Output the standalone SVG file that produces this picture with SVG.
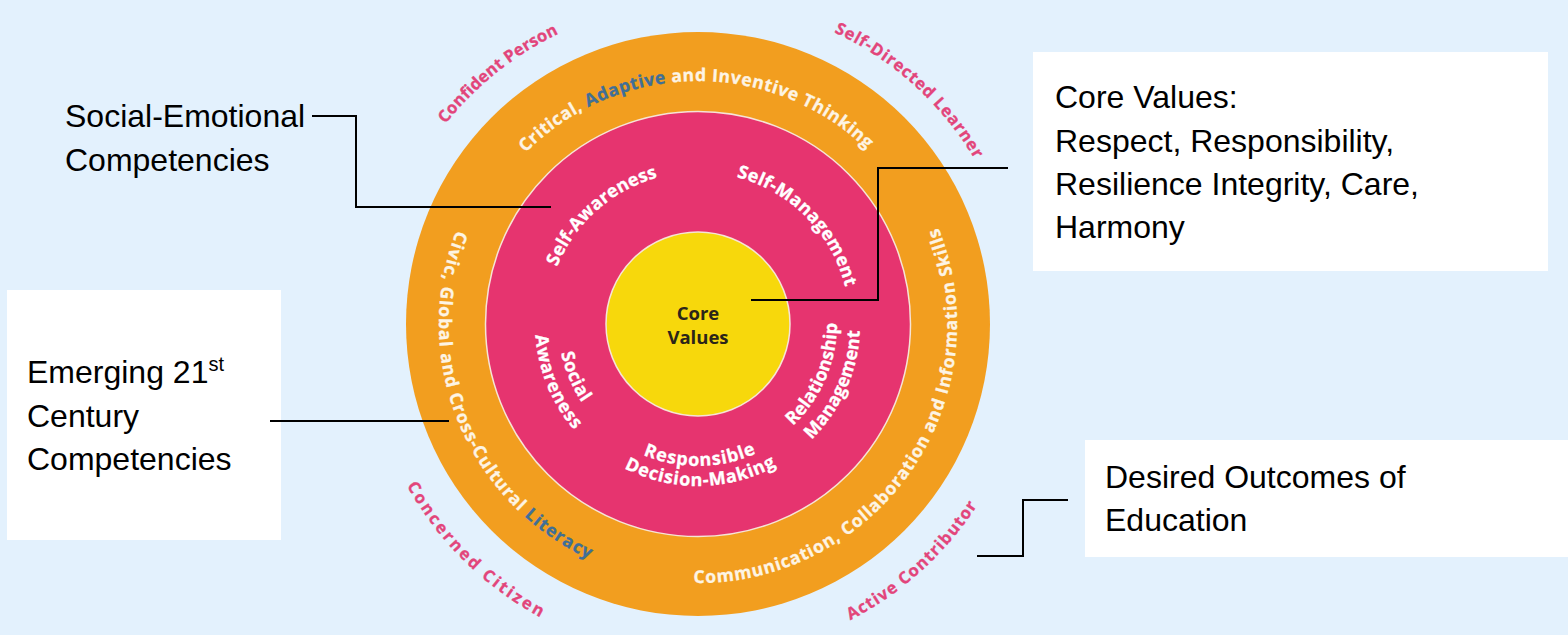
<svg xmlns="http://www.w3.org/2000/svg" width="1568" height="635" viewBox="0 0 1568 635">
<style>
.ring{font-family:"Open Sans","Liberation Sans",sans-serif;font-weight:700;}
.band{font-size:17.5px;fill:#fdf4e4;stroke:#fdf4e4;stroke-width:0.3px;}
.inner{font-size:18px;fill:#ffffff;stroke:#ffffff;stroke-width:0.3px;}
.outer{font-size:16.5px;fill:#e2457b;stroke:#e2457b;stroke-width:0.3px;}
.blue{fill:#3f6f98;stroke:#3f6f98;}
.call{font-family:"Liberation Sans",Arial,sans-serif;font-size:32px;fill:#000;}
.conn{fill:none;stroke:#000;stroke-width:2;}
.box{fill:#ffffff;}
</style>
<defs>
<path id="pCritical" d="M525.6,152.8 A243,243 0 0 1 894.6,181.2"/>
<path id="pSelfDir" d="M834.1,32.2 A322,322 0 0 1 1000.6,213.9"/>
<path id="pConfident" d="M445.6,124 A322,322 0 0 1 614.7,13"/>
<path id="pConcerned" d="M406.8,485.4 A333,333 0 0 0 595.1,640.7"/>
<path id="pActive" d="M850.2,620.2 A333,333 0 0 0 1004.5,454.1"/>
<path id="pCivic" d="M456.5,230.3 A259,259 0 0 0 631,574.2"/>
<path id="pComm" d="M693.5,583 A259,259 0 0 0 922.3,194.5"/>
<path id="pSelfAw" d="M557.2,266.8 A152,152 0 0 1 684.8,172.6"/>
<path id="pSelfMan" d="M736.6,177 A152,152 0 0 1 849.6,313.4"/>
<path id="pSocial" d="M561.1,353.1 A140,140 0 0 0 597.3,421.3"/>
<path id="pAware" d="M535.4,335.4 A163,163 0 0 0 597.6,452.4"/>
<path id="pRel" d="M792.6,425.8 A139,139 0 0 0 834.9,299.9"/>
<path id="pMan" d="M811.4,439.7 A162,162 0 0 0 858.4,301.5"/>
<path id="pResp" d="M643.2,455 A142,142 0 0 0 779.4,440.3"/>
<path id="pDec" d="M624.2,468.2 A162,162 0 0 0 802.1,448.1"/>
</defs>
<rect x="0" y="0" width="1568" height="635" fill="#e3f1fd"/>

<g id="outcomes-ring">
<circle cx="698" cy="324" r="292" fill="#f29e1f"/>
<text class="ring outer"><textPath href="#pConfident" textLength="146">Confident Person</textPath></text>
<text class="ring outer"><textPath href="#pSelfDir" textLength="192">Self-Directed Learner</textPath></text>
<text class="ring outer"><textPath href="#pConcerned" textLength="190">Concerned Citizen</textPath></text>
<text class="ring outer"><textPath href="#pActive" textLength="173">Active Contributor</textPath></text>
</g>

<g id="competencies-21c">
<text class="ring band"><textPath href="#pCritical" textLength="378">Critical, <tspan class="blue">Adaptive</tspan> and Inventive Thinking</textPath></text>
<text class="ring band"><textPath href="#pCivic" textLength="390">Civic, Global and Cross-Cultural <tspan class="blue">Literacy</tspan></textPath></text>
<text class="ring band"><textPath href="#pComm" textLength="510">Communication, Collaboration and Information Skills</textPath></text>
</g>

<g id="sel-ring">
<circle cx="698" cy="324" r="212.5" fill="#e6346f" stroke="#f6e4d6" stroke-width="1.5"/>
<text class="ring inner"><textPath href="#pSelfAw" textLength="139">Self-Awareness</textPath></text>
<text class="ring inner"><textPath href="#pSelfMan" textLength="162">Self-Management</textPath></text>
<text class="ring inner"><textPath href="#pSocial" textLength="54">Social</textPath></text>
<text class="ring inner"><textPath href="#pAware" textLength="104">Awareness</textPath></text>
<text class="ring inner"><textPath href="#pRel" textLength="115">Relationship</textPath></text>
<text class="ring inner"><textPath href="#pMan" textLength="122">Management</textPath></text>
<text class="ring inner"><textPath href="#pResp" textLength="116">Responsible</textPath></text>
<text class="ring inner"><textPath href="#pDec" textLength="158">Decision-Making</textPath></text>
</g>

<g id="core-values">
<circle cx="698" cy="324" r="92" fill="#f7d80c" stroke="#f6e4d6" stroke-width="1.5"/>
<text class="ring" font-size="18.5" fill="#2b2519" text-anchor="middle"><tspan x="698" y="320">Core</tspan><tspan x="698" y="344">Values</tspan></text>
</g>

<g id="label-sel">
<text class="call"><tspan x="65" y="127">Social-Emotional</tspan><tspan x="65" y="171">Competencies</tspan></text>
</g>

<g id="label-21c">
<rect class="box" x="7" y="290" width="274" height="250"/>
<text class="call"><tspan x="27" y="383">Emerging 21</tspan><tspan font-size="20" dy="-12">st</tspan><tspan x="27" y="427">Century</tspan><tspan x="27" y="470">Competencies</tspan></text>
</g>

<g id="label-core">
<rect class="box" x="1033" y="52" width="515" height="219"/>
<text class="call"><tspan x="1055" y="108">Core Values:</tspan><tspan x="1055" y="152">Respect, Responsibility,</tspan><tspan x="1055" y="195">Resilience Integrity, Care,</tspan><tspan x="1055" y="238">Harmony</tspan></text>
</g>

<g id="label-outcomes">
<rect class="box" x="1085" y="440" width="483" height="117"/>
<text class="call"><tspan x="1105" y="488">Desired Outcomes of</tspan><tspan x="1105" y="531">Education</tspan></text>
</g>

<g id="connectors">
<path class="conn" d="M312,116 H356 V207 H551"/>
<path class="conn" d="M270,421 H449"/>
<path class="conn" d="M751,300 H878 V168 H1008"/>
<path class="conn" d="M977,556 H1023 V500 H1068"/>
</g>
</svg>
